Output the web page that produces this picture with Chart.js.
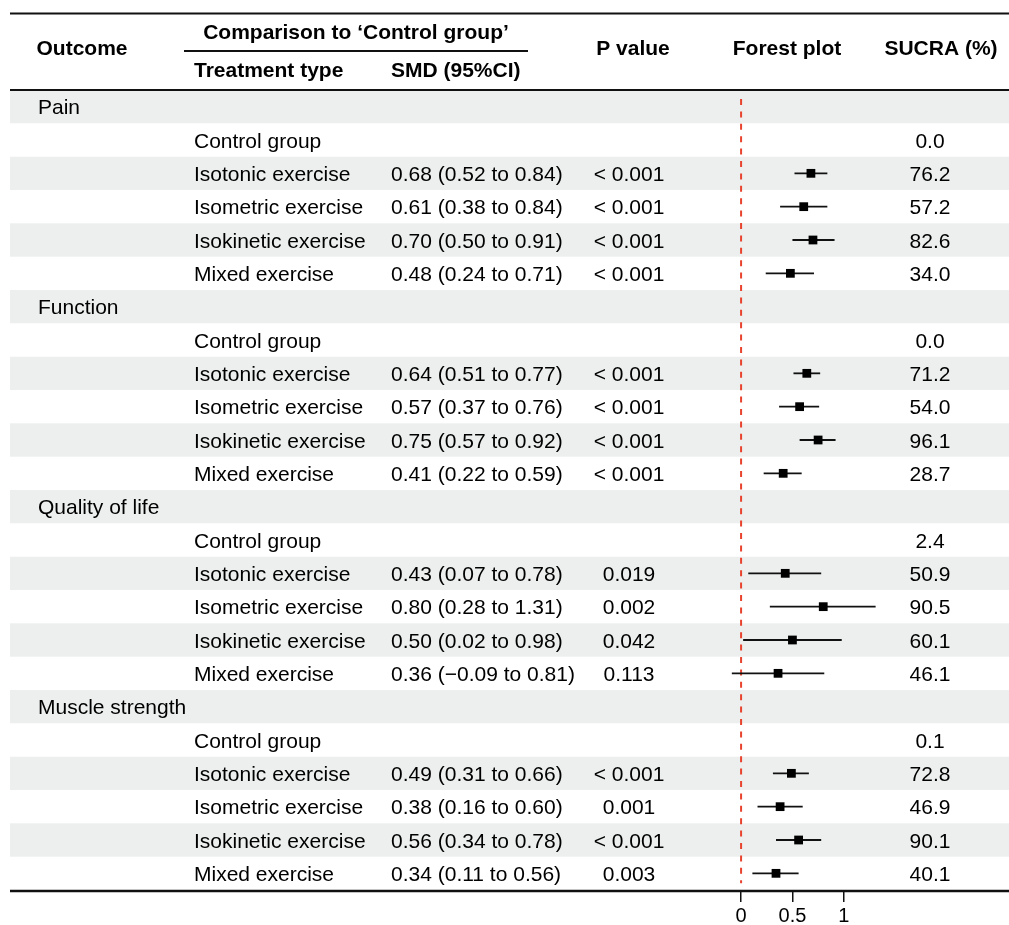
<!DOCTYPE html>
<html>
<head>
<meta charset="utf-8">
<title>Network meta-analysis forest plot</title>
<script src="https://cdn.jsdelivr.net/npm/chart.js@4.4.1/dist/chart.umd.min.js"></script>
<style>
  html, body { margin: 0; padding: 0; background: #fff; }
  canvas { display: block; }
</style>
</head>
<body>
<canvas id="forest" width="1009" height="925"></canvas>
<script>
// ---- data ----
const outcomes = ['Pain', 'Function', 'Quality of life', 'Muscle strength'];
const treatments = ['Control group', 'Isotonic exercise', 'Isometric exercise', 'Isokinetic exercise', 'Mixed exercise'];

// one row per outcome, one column per treatment (control group is the reference)
const smdValues = [
  [null, 0.68, 0.61, 0.70, 0.48],
  [null, 0.64, 0.57, 0.75, 0.41],
  [null, 0.43, 0.80, 0.50, 0.36],
  [null, 0.49, 0.38, 0.56, 0.34],
];
const ciLower = [
  [null, 0.52, 0.38, 0.50, 0.24],
  [null, 0.51, 0.37, 0.57, 0.22],
  [null, 0.07, 0.28, 0.02, -0.09],
  [null, 0.31, 0.16, 0.34, 0.11],
];
const ciUpper = [
  [null, 0.84, 0.84, 0.91, 0.71],
  [null, 0.77, 0.76, 0.92, 0.59],
  [null, 0.78, 1.31, 0.98, 0.81],
  [null, 0.66, 0.60, 0.78, 0.56],
];
const pValues = [
  ['', '< 0.001', '< 0.001', '< 0.001', '< 0.001'],
  ['', '< 0.001', '< 0.001', '< 0.001', '< 0.001'],
  ['', '0.019', '0.002', '0.042', '0.113'],
  ['', '< 0.001', '0.001', '< 0.001', '0.003'],
];
const sucraValues = [
  [0.0, 76.2, 57.2, 82.6, 34.0],
  [0.0, 71.2, 54.0, 96.1, 28.7],
  [2.4, 50.9, 90.5, 60.1, 46.1],
  [0.1, 72.8, 46.9, 90.1, 40.1],
];
const xTicks = [0, 0.5, 1];

// ---- layout helpers ----
const FONT = '"Liberation Sans", Arial, Helvetica, sans-serif';
const SIZE = 21;
const BAND = '#ECEFED';
const RED = '#E8432E';
const rowsPerOutcome = treatments.length + 1;
const totalRows = outcomes.length * rowsPerOutcome;

function rowOf(k, j) {
  return k * rowsPerOutcome + 1 + j;
}

function fmt(v) {
  const s = Math.abs(v).toFixed(2);
  return v < 0 ? '\u2212' + s : s;
}

// ---- datasets ----
const refLine = {
  type: 'line',
  data: [{ x: 0, y: -0.23 }, { x: 0, y: totalRows - 0.7 }],
  borderColor: RED,
  borderWidth: 2,
  borderDash: [6, 6.4],
  pointRadius: 0,
  order: 3,
};

const ciLines = [];
const points = [];
outcomes.forEach((o, k) => {
  treatments.forEach((t, j) => {
    if (smdValues[k][j] === null) return;
    const y = rowOf(k, j);
    ciLines.push({
      type: 'line',
      data: [{ x: ciLower[k][j], y }, { x: ciUpper[k][j], y }],
      borderColor: '#111',
      borderWidth: 1.8,
      pointRadius: 0,
      order: 2,
    });
    points.push({ x: smdValues[k][j], y });
  });
});

const pointSet = {
  type: 'scatter',
  data: points,
  pointStyle: 'rect',
  pointRadius: 6.2,
  backgroundColor: '#000',
  borderColor: '#000',
  borderWidth: 0,
  order: 1,
};

// ---- table drawn behind the plot ----
const tablePlugin = {
  id: 'tablePlugin',
  beforeDraw(chart) {
    const { ctx } = chart;
    const yS = chart.scales.y;
    const left = 10, right = chart.width;

    ctx.save();
    ctx.fillStyle = '#fff';
    ctx.fillRect(0, 0, chart.width, chart.height);

    // alternating bands
    ctx.fillStyle = BAND;
    for (let r = 0; r < totalRows; r += 2) {
      const top = yS.getPixelForValue(r - 0.5);
      const bot = yS.getPixelForValue(r + 0.5);
      ctx.fillRect(left, top, right - left, bot - top);
    }

    // rules
    ctx.strokeStyle = '#111';
    const hline = (y, x0, x1, w) => {
      ctx.lineWidth = w;
      ctx.beginPath();
      ctx.moveTo(x0, y);
      ctx.lineTo(x1, y);
      ctx.stroke();
    };
    hline(13.5, left, right, 2);
    hline(51, 184, 528, 2);
    hline(90, left, right, 2);
    hline(yS.getPixelForValue(totalRows - 0.5) + 1, left, right, 2.5);

    // header
    ctx.fillStyle = '#000';
    ctx.textBaseline = 'alphabetic';
    ctx.font = 'bold ' + SIZE + 'px ' + FONT;
    ctx.textAlign = 'center';
    ctx.fillText('Outcome', 82, 55);
    ctx.fillText('Comparison to \u2018Control group\u2019', 356, 38.5);
    ctx.fillText('P value', 633, 55);
    ctx.fillText('Forest plot', 787, 55);
    ctx.fillText('SUCRA (%)', 941, 55);
    ctx.textAlign = 'left';
    ctx.fillText('Treatment type', 194, 77);
    ctx.fillText('SMD (95%CI)', 391, 77);

    // body
    ctx.font = SIZE + 'px ' + FONT;
    const base = (r) => yS.getPixelForValue(r) + 7.5;
    outcomes.forEach((o, k) => {
      ctx.textAlign = 'left';
      ctx.fillText(o, 38, base(k * rowsPerOutcome));
      treatments.forEach((t, j) => {
        const by = base(rowOf(k, j));
        ctx.textAlign = 'left';
        ctx.fillText(t, 194, by);
        if (smdValues[k][j] !== null) {
          ctx.fillText(fmt(smdValues[k][j]) + ' (' + fmt(ciLower[k][j]) + ' to ' + fmt(ciUpper[k][j]) + ')', 391, by);
        }
        ctx.textAlign = 'center';
        ctx.fillText(pValues[k][j], 629, by);
        ctx.fillText(sucraValues[k][j].toFixed(1), 930, by);
      });
    });
    ctx.restore();
  },
};

new Chart(document.getElementById('forest'), {
  type: 'scatter',
  data: { datasets: [refLine, ...ciLines, pointSet] },
  options: {
    responsive: false,
    animation: false,
    events: [],
    layout: { padding: { left: 700, right: 119, top: 90, bottom: 0 } },
    plugins: { legend: { display: false }, tooltip: { enabled: false } },
    scales: {
      x: {
        type: 'linear',
        min: -0.4,
        max: 1.45,
        afterBuildTicks: (scale) => { scale.ticks = xTicks.map(v => ({ value: v })); },
        afterFit: (scale) => { scale.height = 35; },
        grid: { drawOnChartArea: false, drawTicks: true, tickLength: 12, color: '#111', lineWidth: 1.5 },
        border: { display: false },
        ticks: {
          color: '#000',
          padding: 4,
          font: { family: FONT, size: 20, lineHeight: 1 },
          callback: (v) => String(v),
        },
      },
      y: {
        type: 'linear',
        display: false,
        reverse: true,
        min: -0.5,
        max: totalRows - 0.5,
      },
    },
  },
  plugins: [tablePlugin],
});
</script>
</body>
</html>
